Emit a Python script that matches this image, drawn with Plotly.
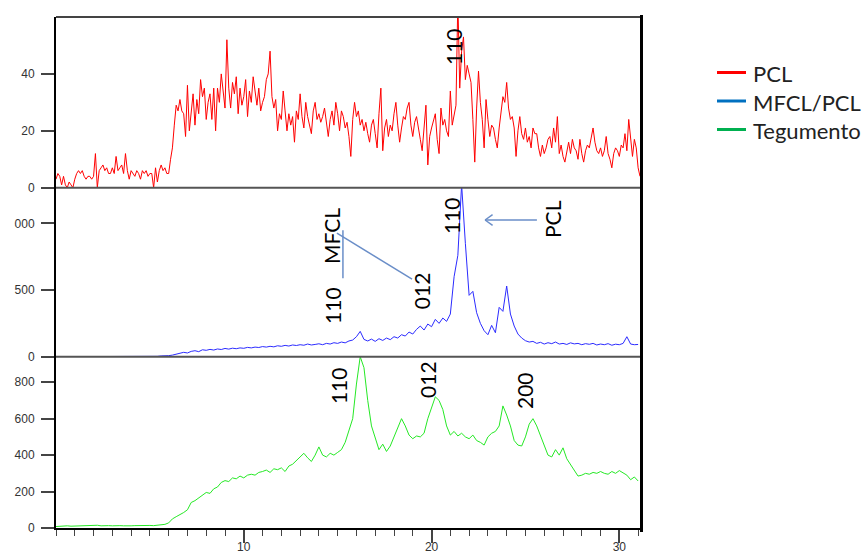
import numpy as np
import plotly.graph_objects as go
from plotly.subplots import make_subplots

# ---------------- data ----------------
# PCL intensity, sampled every 0.1 deg (2theta) from 0.0
pcl = [
    3, 5, 4, 1, 4, 1, 0, 2, 1, 0,
    3, 5, 6, 5, 6, 4, 3, 4, 4, 3,
    4, 12, 0, 6, 7, 8, 6, 7, 5, 5,
    7, 5, 11, 6, 7, 8, 5, 12, 6, 3,
    6, 5, 4, 6, 5, 3, 6, 5, 6, 4,
    5, 5, 0, 7, 2, 6, 8, 6, 7, 5,
    5, 10, 14, 22, 29, 27, 31, 27, 26, 18,
    36, 20, 28, 33, 22, 31, 26, 38, 32, 35,
    24, 30, 33, 24, 35, 20, 35, 30, 40, 34,
    28, 52, 35, 28, 37, 33, 39, 26, 35, 29,
    32, 38, 25, 34, 30, 39, 33, 29, 35, 27,
    30, 32, 38, 40, 48, 32, 28, 31, 20, 26,
    24, 34, 27, 20, 26, 22, 25, 16, 27, 24,
    33, 25, 21, 30, 25, 22, 19, 27, 30, 24,
    26, 23, 25, 28, 22, 18, 24, 27, 22, 30,
    26, 20, 27, 25, 21, 23, 18, 11, 24, 30,
    25, 27, 22, 24, 20, 23, 19, 16, 22, 24,
    19, 14, 26, 35, 13, 21, 24, 18, 22, 20,
    26, 30, 22, 16, 21, 25, 24, 28, 30, 22,
    18, 23, 25, 20, 17, 13, 22, 29, 8, 18,
    21, 24, 26, 17, 12, 28, 22, 24, 20, 18,
    34, 22, 26, 29, 66, 35, 48, 53, 38, 43,
    40, 37, 24, 9, 28, 41, 30, 24, 14, 31,
    24, 18, 22, 21, 17, 14, 21, 26, 32, 30,
    37, 28, 24, 25, 21, 11, 20, 25, 19, 17,
    21, 16, 18, 14, 21, 19, 19, 14, 11, 15,
    12, 14, 17, 18, 14, 21, 16, 25, 12, 15,
    11, 9, 13, 16, 12, 17, 14, 13, 10, 17,
    12, 9, 13, 15, 14, 18, 21, 16, 13, 12,
    14, 11, 13, 18, 12, 10, 7, 12, 14, 13,
    11, 15, 14, 19, 13, 24, 18, 11, 17, 14,
    7, 4,
]

# MFCL/PCL intensity, sampled every 0.2 deg from 0.0
mfcl_pcl = [
    0, 0, 0, 3, 0,   2, 0, 3, 0, 2,   0, 3, 1, 0, 2,   0, 3, 1, 0, 2,
    4, 0, 2, 0, 3,   2, 4, 3, 6, 5,   8, 12, 18, 25, 33,   28, 40, 45, 38, 52,
    48, 55, 50, 58, 54,   62, 57, 64, 60, 66,   63, 70, 66, 72, 69,
    76, 72, 78, 74, 82,   78, 85, 80, 88, 84,   90, 86, 95, 88, 92,
    97, 90, 100, 95, 105,   100, 110, 104, 118, 125,   150, 190, 130, 118, 132,
    115, 135, 122, 140, 128,   150, 140, 165, 155, 185,   170, 205, 230, 200, 245,
    225, 280, 250, 290, 265,   320, 600, 760, 1290, 850,   460, 490, 330, 250, 195,
    165, 235, 180, 370, 340,   530, 320, 230, 170, 140,   120, 110, 115, 100, 108,
    95, 105, 98, 110, 95,   100, 92, 104, 96, 100,   90, 98, 93, 100, 88,
    95, 90, 98, 86, 94,   90, 100, 150, 95, 90,   92,
]

# Tegumento intensity, sampled every 0.2 deg from 0.0
tegumento = [
    8, 10, 9, 12, 10,   11, 13, 12, 14, 12,   13, 15, 12, 14, 13,   12, 14, 13, 12, 14,
    12, 13, 14, 12, 13,   14, 13, 15, 14, 20,   28, 50, 62, 72, 85,   100, 140, 150, 165, 185,
    195, 190, 215, 225, 250,   260, 255, 275, 270, 285,   275, 290, 295, 290, 305,
    310, 318, 305, 325, 320,   330, 310, 340, 350, 370,   395, 410, 385, 365, 400,
    445, 400, 390, 410, 400,   415, 430, 470, 540, 600,   790, 940, 880, 700, 560,
    490, 430, 460, 420, 450,   500, 540, 600, 560, 510,   490, 505, 500, 520, 600,
    660, 720, 700, 650, 560,   510, 530, 505, 520, 500,   490, 510, 480, 470, 455,
    500, 520, 530, 560, 670,   620, 560, 480, 455, 450,   500, 570, 600, 560, 510,
    450, 400, 390, 430, 400,   440, 380, 350, 320, 285,   290, 300, 295, 305, 300,
    310, 300, 295, 310, 300,   315, 300, 290, 265, 280,   258,
]

series_names = ["PCL", "MFCL/PCL", "Tegumento"]
x_pcl = np.round(np.arange(len(pcl)) * 0.1, 2)
x_mfcl = np.round(np.arange(len(mfcl_pcl)) * 0.2, 2)
x_teg = np.round(np.arange(len(tegumento)) * 0.2, 2)

x_range = [0, 31.1]
y_ranges = [[0, 60], [0, 1267], [0, 940]]
y_tickvals = [[0, 20, 40], [0, 500, 1000], [0, 200, 400, 600, 800]]
y_ticktext = [["0", "20", "40"], ["0", "500", "000"], ["0", "200", "400", "600", "800"]]
x_tickvals = [10, 20, 30]

# peak labels: (text, panel row, x, y)
peak_labels = [
    ("110", 1, 21.14, 49.8),
    ("110", 2, 21.04, 1055),
    ("PCL", 2, 26.41, 1032),
    ("MFCL", 2, 14.64, 905),
    ("110", 2, 14.75, 388),
    ("012", 2, 19.44, 492),
    ("110", 3, 15.02, 779),
    ("012", 3, 19.81, 818),
    ("200", 3, 24.98, 752),
]

data_colors = ["#ff0000", "#2b2bff", "#25e825"]
legend_colors = ["#ff0000", "#0070c0", "#00b050"]

# ---------------- figure ----------------
W, H = 865, 556
ML, MR, MT, MB = 56, 225, 17, 28
PW, PH = W - ML - MR, H - MT - MB

fig = make_subplots(rows=3, cols=1, shared_xaxes=True, vertical_spacing=0)

for row, (xs, ys, col) in enumerate(
        [(x_pcl, pcl, data_colors[0]), (x_mfcl, mfcl_pcl, data_colors[1]), (x_teg, tegumento, data_colors[2])],
        start=1):
    fig.add_trace(go.Scatter(x=xs, y=ys, mode="lines", line=dict(color=col, width=1),
                             showlegend=False, hoverinfo="skip"), row=row, col=1)

domains = [[0.6659, 1.0], [0.3352, 0.6659], [0.0, 0.3352]]
tickfont = dict(family="Liberation Sans, Arial, sans-serif", size=12, color="#333")
for i in range(3):
    yname = "yaxis" if i == 0 else f"yaxis{i+1}"
    fig.layout[yname].update(
        domain=domains[i], range=y_ranges[i], tickvals=y_tickvals[i], ticktext=y_ticktext[i],
        showgrid=False, zeroline=False, showline=True, linecolor="black", linewidth=2,
        ticks="outside", ticklen=13, tickwidth=1.5, tickcolor="#444",
        tickfont=tickfont, ticklabelstandoff=4, automargin=False)
    xname = "xaxis" if i == 0 else f"xaxis{i+1}"
    fig.layout[xname].update(range=x_range, showgrid=False, zeroline=False, automargin=False)

fig.layout.xaxis.update(showticklabels=False, ticks="")
fig.layout.xaxis2.update(showticklabels=False, ticks="")
fig.layout.xaxis3.update(
    tickvals=x_tickvals, ticks="outside", ticklen=13, tickwidth=1.5, tickcolor="#444",
    showline=True, linecolor="black", linewidth=2, tickfont=tickfont, ticklabelstandoff=-6,
    minor=dict(dtick=1, tick0=0, ticks="outside", ticklen=6, tickwidth=1.2, tickcolor="#444"))

def px_to_paper_x(px):
    return (px - ML) / PW

def px_to_paper_y(py):
    return (H - MB - py) / PH

shapes = []
# frame lines
shapes.append(dict(type="line", xref="paper", yref="paper", x0=0, x1=1, y0=1, y1=1,
                   line=dict(color="#444", width=2)))
for yb in (domains[0][0], domains[1][0]):
    shapes.append(dict(type="line", xref="paper", yref="paper", x0=0, x1=1, y0=yb, y1=yb,
                       line=dict(color="#555", width=2)))
shapes.append(dict(type="line", xref="paper", yref="paper",
                   x0=px_to_paper_x(641.5), x1=px_to_paper_x(641.5),
                   y0=px_to_paper_y(532), y1=px_to_paper_y(15),
                   line=dict(color="black", width=3)))
# MFCL pointer lines and PCL arrow (middle panel)
ann_col = "#6a8ec8"
shapes.append(dict(type="line", xref="x2", yref="y2", x0=15.28, x1=15.28, y0=588, y1=948,
                   line=dict(color=ann_col, width=1.5)))
shapes.append(dict(type="line", xref="x2", yref="y2", x0=14.96, x1=18.96, y0=926, y1=582,
                   line=dict(color=ann_col, width=1.5)))
shapes.append(dict(type="line", xref="x2", yref="y2", x0=22.85, x1=25.61, y0=1025, y1=1025,
                   line=dict(color=ann_col, width=1.5)))
shapes.append(dict(type="line", xref="x2", yref="y2", x0=22.85, x1=23.25, y0=1025, y1=1065,
                   line=dict(color=ann_col, width=1.5)))
shapes.append(dict(type="line", xref="x2", yref="y2", x0=22.85, x1=23.25, y0=1025, y1=985,
                   line=dict(color=ann_col, width=1.5)))

# legend drawn by hand (line sample + label), so it never pushes the margins
legend_font = dict(family="Lato, Carlito, sans-serif", size=22, color="#222")
legend_rows_py = [72.5, 101.0, 129.5]
for name, col, py in zip(series_names, legend_colors, legend_rows_py):
    shapes.append(dict(type="line", xref="paper", yref="paper",
                       x0=px_to_paper_x(717), x1=px_to_paper_x(746),
                       y0=px_to_paper_y(py), y1=px_to_paper_y(py),
                       line=dict(color=col, width=3)))
    fig.add_annotation(text=name, xref="paper", yref="paper",
                       x=px_to_paper_x(751), y=px_to_paper_y(py + 1),
                       xanchor="left", yanchor="middle", showarrow=False,
                       font=legend_font)
fig.update_layout(shapes=shapes)

for text, row, xv, yv in peak_labels:
    suffix = "" if row == 1 else str(row)
    fig.add_annotation(text=text, x=xv, y=yv, xref="x" + suffix, yref="y" + suffix,
                       showarrow=False, textangle=-90,
                       font=dict(family="Lato, Carlito, sans-serif", size=21, color="black"))

fig.update_layout(
    width=W, height=H,
    margin=dict(l=ML, r=MR, t=MT, b=MB, autoexpand=False),
    paper_bgcolor="white", plot_bgcolor="white",
    showlegend=False,
)

# the page's default 8px body margin would shift the fixed-size figure; remove it
fig.write_html("out.html",
               config={"displayModeBar": False},
               post_script="document.body.style.margin='0';document.body.style.overflow='hidden';")
